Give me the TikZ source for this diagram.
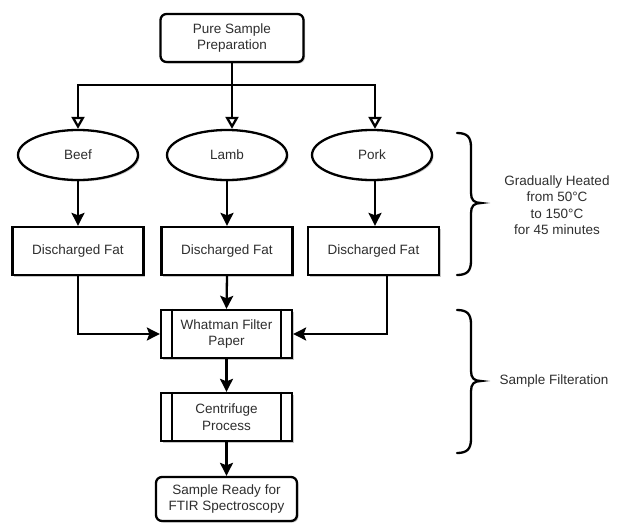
\documentclass[tikz,border=0pt]{standalone}
\usepackage{fontspec}
\setmainfont{Liberation Sans}
\usetikzlibrary{arrows.meta,shapes.geometric,shadows}
\definecolor{txt}{HTML}{2E2E2E}
\begin{document}
\begin{tikzpicture}[x=1pt,y=-1pt,
  every node/.style={font=\fontsize{13.5}{16.5}\selectfont, text=txt, align=center},
  shd/.style={drop shadow={shadow xshift=1.5pt, shadow yshift=-1.5pt, fill=black, opacity=0.22}},
  box/.style={draw=black, line width=2.3pt, fill=white, minimum width=131pt, minimum height=48pt, inner sep=0pt, shd},
  rbox/.style={box, rounded corners=6pt},
  oval/.style={ellipse, draw=black, line width=2.3pt, fill=white, minimum width=120pt, minimum height=50pt, inner sep=0pt, shd},
  ln/.style={draw=black, line width=2.3pt},
  arr/.style={ln, -{Stealth[length=13pt, width=13pt, inset=2.5pt]}},
  oarr/.style={ln, -{Triangle[open, length=12pt, width=13pt, fill=white]}},
  bracestyle/.style={draw=black, line width=2.3pt, line cap=round}
]
\useasboundingbox (0,0) rectangle (617,522);

% nodes
\node[rbox, minimum width=143pt] (top) at (232,38) {Pure Sample\\Preparation};
\node[oval] (beef) at (78,155) {Beef};
\node[oval] (lamb) at (227,155) {Lamb};
\node[oval] (pork) at (372,155) {Pork};
\node[box] (f1) at (78,251) {Discharged Fat};
\node[box] (f2) at (227,251) {Discharged Fat};
\node[box] (f3) at (373.5,251) {Discharged Fat};
\node[box] (wf) at (226.5,334) {Whatman Filter\\Paper};
\node[box] (cp) at (226.5,417) {Centrifuge\\Process};
\node[rbox, minimum width=141pt, minimum height=44pt] (fin) at (226.5,499) {Sample Ready for\\FTIR Spectroscopy};

% inner bars of process boxes
\foreach \n in {wf,cp}{
  \draw[ln] ([xshift=12pt]\n.north west) -- ([xshift=12pt]\n.south west);
  \draw[ln] ([xshift=-12pt]\n.north east) -- ([xshift=-12pt]\n.south east);
}

% split
\coordinate (sl) at (78,85);
\coordinate (sm) at (232,85);
\coordinate (sr) at (375,85);
\draw[ln] (top.south) -- (sm);
\draw[ln, line cap=rect] (sl) -- (sr);
\draw[oarr] (sl) -- (sl |- beef.north);
\draw[oarr] (sm) -- (sm |- lamb.north);
\draw[oarr] (sr) -- (sr |- pork.north);

% ellipses to boxes
\draw[arr] (beef.south) -- (f1.north);
\draw[arr] (lamb.south) -- (f2.north);
\draw[arr] (pork.south -| sr) -- (f3.north -| sr);

% boxes to filter
\draw[arr] (f1.south) |- (wf.west);
\draw[arr] (f2.south) -- (wf.north);
\draw[arr] ([xshift=13.5pt]f3.south) |- (wf.east);
\draw[arr] (wf.south) -- (cp.north);
\draw[arr] (cp.south) -- (fin.north);

% braces
\draw[bracestyle] (457,133) .. controls (467,133) and (471,137) .. (471,147)
  -- (471,193) .. controls (471,200) and (474,203) .. (481,203)
  .. controls (474,203) and (471,206) .. (471,213)
  -- (471,261) .. controls (471,271) and (467,275) .. (457,275);
\draw[bracestyle] (457,310) .. controls (467,310) and (471,314) .. (471,324)
  -- (471,371) .. controls (471,378) and (474,381) .. (481,381)
  .. controls (474,381) and (471,384) .. (471,391)
  -- (471,439) .. controls (471,449) and (467,453) .. (457,453);

% labels
\node (heat) at (557,205) {Gradually Heated\\from 50°C\\to 150°C\\for 45 minutes};
\node (filt) at (554,381) {Sample Filteration};
\end{tikzpicture}
\end{document}
